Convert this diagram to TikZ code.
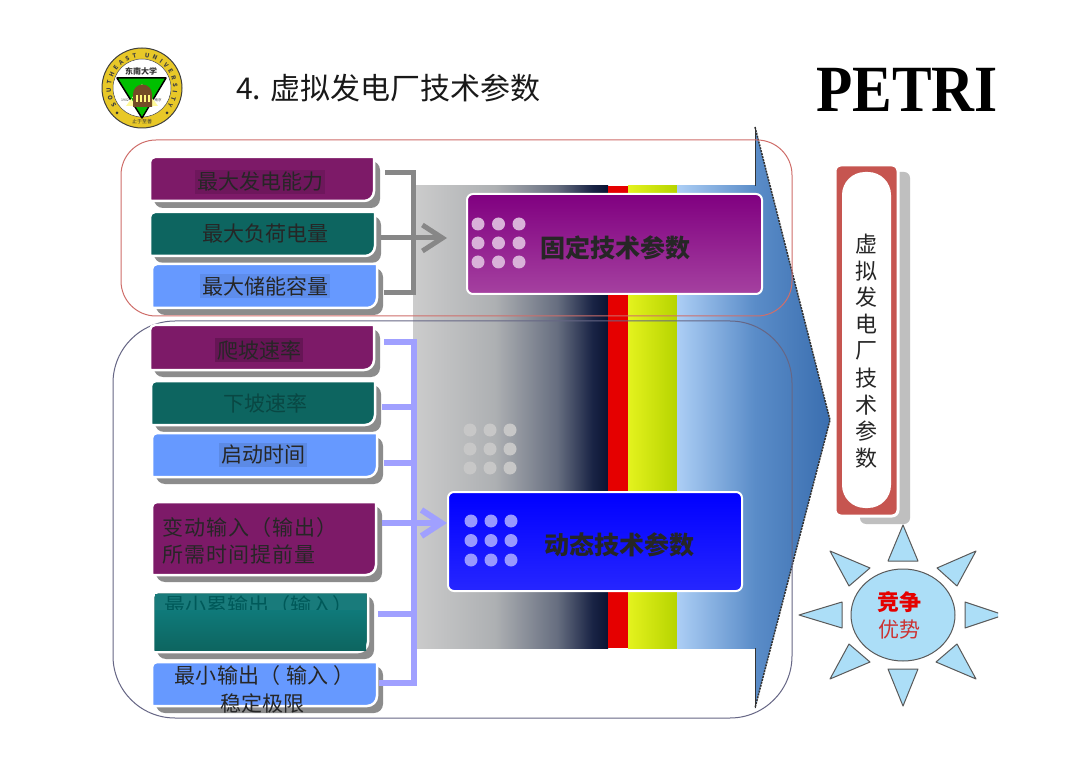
\documentclass[tikz,border=0pt]{standalone}
\usepackage{fontspec}
\setmainfont{Noto Sans CJK SC}
\usetikzlibrary{calc,arrows.meta,positioning,decorations.text}
\definecolor{plum}{RGB}{125,26,104}
\definecolor{pine}{RGB}{13,101,96}
\definecolor{sky}{RGB}{102,153,255}
\definecolor{frameshadow}{RGB}{140,140,140}
\definecolor{fixline}{RGB}{135,135,135}
\definecolor{dynline}{RGB}{160,160,255}
\definecolor{sunblue}{RGB}{172,222,247}
\definecolor{crest}{RGB}{232,200,40}
\definecolor{fixedtop}{RGB}{128,0,128}
\definecolor{fixedbot}{RGB}{165,65,160}
\definecolor{steel}{RGB}{90,140,200}
\definecolor{steeldark}{RGB}{58,110,175}
\definecolor{rimred}{RGB}{198,85,80}
\pgfdeclarehorizontalshading{bandshade}{100bp}{rgb(0bp)=(0.80,0.80,0.80); rgb(25bp)=(0.80,0.80,0.80); rgb(46bp)=(0.68,0.69,0.70); rgb(62bp)=(0.40,0.43,0.50); rgb(71bp)=(0.10,0.14,0.27); rgb(75bp)=(0.04,0.08,0.20); rgb(100bp)=(0.04,0.08,0.20)}
\tikzset{
  paramlabel/.style={font=\fontsize{21}{27}\selectfont,text=black!85,inner sep=2pt},
  techlabel/.style={font=\fontsize{25}{28}\selectfont\bfseries,text=black!85,inner sep=0pt},
  techbox/.style={draw=white,line width=2pt,rounded corners=6pt,inner sep=0pt},
  fixwire/.style={draw=fixline,line width=5pt},
  dynwire/.style={draw=dynline,line width=6pt},
  sunray/.style={fill=sunblue,draw=black!65,line width=1pt,line join=round},
}
\begin{document}
\begin{tikzpicture}[x=1pt,y=-1pt]
  \useasboundingbox[fill=white] (0,0) rectangle (1080,770);
  % logo
  \fill[crest,draw=black!75,line width=1pt] (142,88) circle[radius=40pt];
  \fill[white,draw=black!70,line width=.5pt] (142,88) circle[radius=29pt];
  \path[postaction={decorate},decoration={text along path,text align={fit to path},
    text={|\fontsize{6}{7}\selectfont\bfseries\color{black!75}|SOUTHEAST UNIVERSITY}}]
    (142,88) ++(215:31pt) arc[start angle=215,end angle=-35,radius=31pt];
  \fill[green!75!black,draw=black,line width=1.5pt,line join=round] (117,78) -- (166,78) -- (142,118) -- cycle;
  \fill[yellow!40!white] (126,106) -- (142,84) -- (158,106) -- cycle;
  \fill[green!75!black] (131,98) -- (153,98) -- (142,116) -- cycle;
  \fill[brown!60!black] (133,107) -- (133,94) arc[start angle=180,end angle=0,radius=9.5pt] -- (152,107) -- cycle;
  \foreach \x in {136,140,144,148} \fill[yellow!50!white] (\x,95) rectangle (\x+2,102);
  \node[inner sep=0pt,font=\fontsize{8}{8}\selectfont\bfseries,text=black!80] (logoname) at (141,71) {东南大学};
  \node[inner sep=0pt,font=\fontsize{3.5}{4}\selectfont,text=black!70] (logoyear) at (125,100) {1902};
  \node[inner sep=0pt,font=\fontsize{3.5}{4}\selectfont,text=black!70] (logocity) at (158,100) {南京};
  \node[inner sep=0pt,font=\fontsize{5}{5}\selectfont,text=black!80] (logomotto) at (142,122) {止于至善};
  \fill[black!80] (117,113) circle[radius=1.5pt] (167,113) circle[radius=1.5pt];
  % headings
  \node[anchor=west,inner sep=0pt,font=\fontsize{30}{34}\selectfont,text=black!90] (title) at (236,88) {4. 虚拟发电厂技术参数};
  \node[inner sep=0pt,xscale=.9,font=\fontspec{Liberation Serif}\fontsize{66}{70}\selectfont\bfseries] (petri) at (907,90) {PETRI};
  % big arrow
  \shade[shading=bandshade] (413,186) rectangle (608,648);
  \fill[red!90!black] (608,186) rectangle (628,648);
  \shade[left color={rgb,255:red,228;green,242;blue,30},right color={rgb,255:red,182;green,212;blue,0}] (628,186) rectangle (677,648);
  \shade[left color={rgb,255:red,172;green,206;blue,245},right color=steel] (677,186) rectangle (755,648);
  \shade[left color=steel,right color=steeldark] (755,127) -- (830,420) -- (755,708) -- cycle;
  \draw[black!80,line width=1pt] (755,186) -- (755,127);
  \draw[black!80,line width=1pt] (755,648) -- (755,708);
  \draw[black!80,line width=1.5pt,dash pattern=on 2pt off 1pt] (755,127) -- (830,420) -- (755,708);
  % frames
  \draw[rimred!85!white,line width=1pt,rounded corners=35pt] (121,140) rectangle (792,316);
  \draw[blue!20!black!60,line width=1pt,rounded corners=62pt] (113,321) rectangle (792,718);
  % parameter boxes
  \foreach \n/\xa/\ya/\xb/\yb/\c in {maxgen/150/157/374/201/plum,maxload/150/212/375/256/pine,maxstore/152/264/377/308/sky,
    rampup/150/325/374/370/plum,rampdown/151/381/375/425/pine,startup/152/433/377/477/sky,
    leadtime/152/502/376/575/plum,minoutput/153/592/368/652/pine,minstable/152/662/377/706/sky} {
    \fill[frameshadow,rounded corners=9pt] (\xa+4,\ya+4) -- (\xb+6,\ya+4) -- (\xb+6,\yb+7) -- (\xa+4,\yb+7) [sharp corners] -- cycle;
    \draw[draw=white,fill=\c,line width=2.5pt] (\xa,\ya+5) [rounded corners=5pt] -- (\xa,\ya) [sharp corners] -- (\xb,\ya) [rounded corners=10pt] -- (\xb,\yb) [sharp corners] -- (\xa,\yb) -- cycle;
    \node[inner sep=0pt,minimum width=\xb pt-\xa pt,minimum height=\yb pt-\ya pt] (\n) at ({(\xa+\xb)/2},{(\ya+\yb)/2}) {};
  }
  \foreach \n/\x/\y/\t/\f in {maxgenlabel/260/182/最大发电能力/plum!88!black,maxloadlabel/265/234/最大负荷电量/pine,maxstorelabel/265/286/最大储能容量/sky!92!black,rampuplabel/259/350/爬坡速率/plum!82!black,startuplabel/263/455/启动时间/sky!90!black} {
    \node[paramlabel,fill=\f] (\n) at (\x,\y) {\t};
  }
  \node[paramlabel,text=pine!70!black] (rampdownlabel) at (265,403) {下坡速率};
  \node[paramlabel,anchor=west,align=left,font=\fontsize{21}{27}\selectfont\addfontfeature{LetterSpace=5}] (leadtimelabel) at (160,541) {变动输入（输出）\\所需时间提前量};
  \fill[teal!85!black!90] (155,594) rectangle (366,610);
  \node[paramlabel,text=teal!70!black,anchor=west] (minoutputlabel) at (162,606) {最小累输出（输入）};
  \shade[top color={rgb,255:red,15;green,122;blue,122},bottom color=pine] (155,610) rectangle (366,650);
  \node[paramlabel,anchor=west,font=\fontsize{21}{27}\selectfont\addfontfeature{LetterSpace=2}] (minstablelabel) at (172,676) {最小输出（ 输入 ）};
  \node[paramlabel] (minstablelabelb) at (262,703) {稳定极限};
  % bus wires
  \coordinate (fixtop) at (413,173);
  \coordinate (fixbot) at (413,293);
  \coordinate (fixtip) at (447,238);
  \coordinate (dyntop) at (414,342);
  \coordinate (dynbot) at (414,683);
  \coordinate (dyntip) at (447,523);
  \draw[fixwire] ([xshift=11pt]maxgen.east |- fixtop) -- (fixtop) -- (fixbot) -- ([xshift=7pt]maxstore.east |- fixbot);
  \draw[fixwire,-{Straight Barb[length=20pt,width=26pt]}] ([xshift=6pt]maxload.east |- fixtip) -- (fixtip);
  \draw[dynwire] ([xshift=10pt]rampup.east |- dyntop) -- (dyntop) -- (dynbot) -- ([xshift=2pt]minstable.east |- dynbot);
  \draw[dynwire] ([xshift=7pt]rampdown.east |- 0,407) -- (414,407);
  \draw[dynwire] ([xshift=7pt]startup.east |- 0,463) -- (414,463);
  \draw[dynwire] ([xshift=10pt]minoutput.east |- 0,614) -- (414,614);
  \draw[dynwire,-{Straight Barb[length=20pt,width=26pt]}] ([xshift=6pt]leadtime.east |- dyntip) -- (dyntip);
  % technical parameter boxes
  \node[techbox,top color=fixedtop,bottom color=fixedbot,minimum width=295pt,minimum height=100pt] (fixedbox) at (614.5,244) {};
  \node[techbox,top color=blue,bottom color=blue!85!white,minimum width=294pt,minimum height=99pt] (dynbox) at (595,541.5) {};
  \node[techlabel] (fixedlabel) at (615,248) {固定技术参数};
  \node[techlabel] (dynlabel) at (619,545) {动态技术参数};
  \foreach \x in {0,1,2} \foreach \y in {0,1,2} {
    \fill[fixedtop!30!white] (478+\x*20.5,224+\y*19) circle[radius=6.5pt];
    \fill[blue!40!white] (471+\x*20,521+\y*19.5) circle[radius=6.5pt];
    \fill[black!22] (470+\x*20,430+\y*19) circle[radius=6.5pt];
  }
  % side pill
  \fill[black!25,rounded corners=6pt] (860,172) rectangle (910,524);
  \fill[rimred,draw=white,line width=3pt,rounded corners=6pt] (835,165) rectangle (898,516);
  \fill[white,rounded corners=23pt] (842,172) rectangle (891,508);
  \foreach \n/\t [count=\i from 0] in {a/虚,b/拟,c/发,d/电,e/厂,f/技,g/术,h/参,k/数} {
    \node[inner sep=0pt,font=\fontsize{22}{22}\selectfont,text=black!85] (side\n) at (866,244+\i*26.8) {\t};
  }
  % sun
  \begin{scope}
    \clip (780,500) rectangle (998,720);
    \foreach \ax/\ay/\bx/\by/\cx/\cy in {903/525/888/561/918/561,830/551/870/568/849/586,976/551/937/568/957/586,799/615/842/602/842/628,
      965/602/965/628/1004/615,849/644/870/662/830/679,957/644/936/662/976/679,888/669/918/669/903/706} {
      \draw[sunray] (\ax,\ay) -- (\bx,\by) -- (\cx,\cy) -- cycle;
    }
  \end{scope}
  \draw[sunray] (903,615) ellipse[x radius=52pt,y radius=46pt];
  \node[inner sep=0pt,font=\fontsize{22}{22}\selectfont\bfseries,text=red!90!black] (sunlabela) at (899,602) {竞争};
  \node[inner sep=0pt,font=\fontsize{21}{21}\selectfont,text=red!75!black!80!white] (sunlabelb) at (899,630) {优势};
\end{tikzpicture}
\end{document}
